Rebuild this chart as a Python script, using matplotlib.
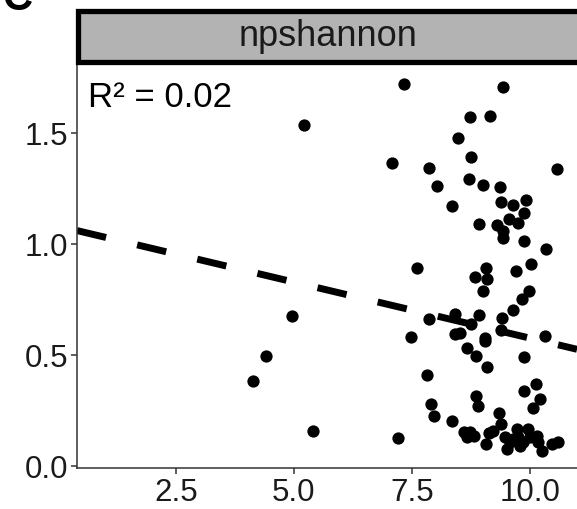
import matplotlib.pyplot as plt
import numpy as np
from matplotlib.patches import Rectangle

plt.rcParams['font.family'] = ['Liberation Sans', 'DejaVu Sans']

panel_title = 'npshannon'
r2_label = 'R² = 0.02'

# points (x, y)
x_vals = [5.21, 4.96, 4.41, 4.13, 5.40,
          7.33, 9.43, 8.73, 9.15, 8.47, 8.75, 7.08, 7.86, 10.57, 8.03,
          8.71, 9.00, 9.36, 8.35, 9.39, 9.64, 9.92, 9.87, 9.55, 9.75,
          8.92, 9.30, 9.43, 9.43, 9.87, 10.34,
          10.02, 9.70, 7.61, 9.07, 8.83, 9.09, 9.00, 9.98, 9.83, 9.64,
          7.86, 8.41, 8.92, 9.41, 8.75, 9.39, 7.48, 8.41, 8.52, 9.05,
          9.05, 10.32, 8.66, 8.86, 9.09, 9.87,
          7.82, 10.13, 9.87, 8.86, 10.21, 8.90, 10.06, 7.90, 7.97, 8.35,
          9.34, 9.39, 7.20, 8.60, 8.73, 8.66, 8.81, 9.13, 9.22, 9.07,
          9.47, 9.51, 9.72, 9.75, 9.79, 9.96, 10.00, 10.15, 10.17, 10.25,
          10.47, 10.59, 9.58, 9.85, 9.64]
y_vals = [1.535, 0.674, 0.494, 0.380, 0.156,
          1.720, 1.706, 1.571, 1.575, 1.475, 1.390, 1.364, 1.340, 1.336, 1.260,
          1.290, 1.264, 1.255, 1.170, 1.187, 1.174, 1.196, 1.138, 1.110, 1.092,
          1.089, 1.084, 1.057, 1.026, 1.012, 0.976,
          0.907, 0.876, 0.890, 0.890, 0.850, 0.841, 0.787, 0.787, 0.750, 0.700,
          0.660, 0.683, 0.680, 0.665, 0.637, 0.611, 0.580, 0.594, 0.598, 0.575,
          0.560, 0.584, 0.530, 0.494, 0.445, 0.490,
          0.409, 0.368, 0.337, 0.314, 0.300, 0.269, 0.260, 0.278, 0.225, 0.203,
          0.237, 0.188, 0.125, 0.150, 0.150, 0.130, 0.134, 0.147, 0.156, 0.098,
          0.130, 0.075, 0.165, 0.130, 0.090, 0.165, 0.130, 0.134, 0.106, 0.066,
          0.098, 0.106, 0.106, 0.106, 0.120]

# fitted line as drawn in the reference
fit_intercept = 1.08
fit_slope = -0.0505

x_ticks = [2.5, 5.0, 7.5, 10.0]
x_tick_labels = ['2.5', '5.0', '7.5', '10.0']
y_ticks = [0.0, 0.5, 1.0, 1.5]
y_tick_labels = ['0.0', '0.5', '1.0', '1.5']

W, H = 577, 510
fig = plt.figure(figsize=(W / 100, H / 100), dpi=100)
ax = fig.add_axes([77 / W, 1 - 469 / H, 500 / W, 404 / H])

xlim = (0.405, 10.995)
ax.set_xlim(*xlim)
ax.set_ylim(-0.01, 1.81)

ax.scatter(x_vals, y_vals, s=78, color='black', linewidths=0, zorder=3)

xl = np.array(xlim)
line, = ax.plot(xl, fit_intercept + fit_slope * xl, color='black', lw=5,
                solid_capstyle='butt', dash_capstyle='butt', zorder=2)
line.set_dashes([4.3, 4.6])

for s in ['top', 'right']:
    ax.spines[s].set_visible(False)
for s in ['left', 'bottom']:
    ax.spines[s].set_color('#333333')
    ax.spines[s].set_linewidth(1.1)

ax.set_xticks(x_ticks)
ax.set_xticklabels(x_tick_labels)
ax.set_yticks(y_ticks)
ax.set_yticklabels(y_tick_labels)
ax.tick_params(axis='both', length=4.5, width=1.1, color='#333333',
               labelsize=22.5, labelcolor='#1a1a1a', pad=2)

ax.text(88 / W, 1 - 107 / H, r2_label, transform=fig.transFigure,
        fontsize=25, color='black', va='baseline', ha='left')

# facet strip
strip = Rectangle((77.5 / W, 1 - 62.5 / H), 520 / W, 51 / H,
                  transform=fig.transFigure, facecolor='#b3b3b3',
                  edgecolor='black', linewidth=3.8, clip_on=False)
fig.patches.append(strip)
fig.text(328 / W, 1 - 37 / H, panel_title, fontsize=26, color='#1a1a1a',
         ha='center', va='center')

# panel letter, mostly cut off at the top
fig.text(17 / W, 1 - 10 / H, 'C', fontsize=30, fontweight='bold',
         ha='center', va='baseline')

fig.savefig('out.png', dpi=100)
